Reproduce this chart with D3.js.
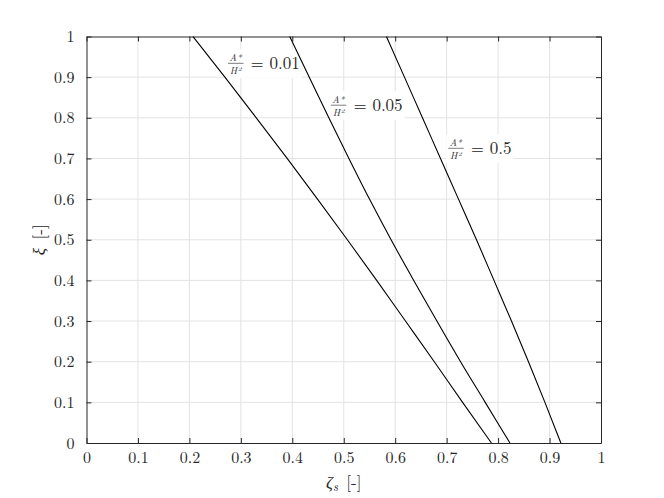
<!DOCTYPE html>
<html>
<head>
<meta charset="utf-8">
<script src="https://cdn.jsdelivr.net/npm/d3@7"></script>
<style>
  body { margin: 0; background: #fff; }
</style>
</head>
<body>
<div id="chart"></div>
<script>
const xiVals = [1, 0.9, 0.8, 0.7, 0.6, 0.5, 0.4, 0.3, 0.2, 0.1, 0];
// zeta_s for each ratio A*/H^2
const zeta001 = [0.207, 0.269, 0.330, 0.390, 0.449, 0.507, 0.564, 0.620, 0.676, 0.731, 0.787];
const zeta005 = [0.395, 0.433, 0.471, 0.510, 0.550, 0.592, 0.636, 0.681, 0.727, 0.775, 0.823];
const zeta05  = [0.583, 0.618, 0.653, 0.688, 0.723, 0.758, 0.792, 0.826, 0.859, 0.891, 0.922];
const ratioLabels = ['0.01', '0.05', '0.5'];
// label anchor (zeta, xi) in data units
const labelPos = [[0.275, 0.934], [0.475, 0.831], [0.703, 0.725]];
const tickVals = d3.range(0, 1.01, 0.1);

const width = 664, height = 498;
const margin = {top: 36.5, right: 63, bottom: 55, left: 86.5};
const iw = width - margin.left - margin.right;
const ih = height - margin.top - margin.bottom;
const serif = 'Latin Modern Roman, Liberation Serif, serif';
const ink = '#262626';

const svg = d3.select('#chart').append('svg')
	.attr('width', width)
	.attr('height', height)
	.style('font-family', serif);

const g = svg.append('g')
	.attr('transform', 'translate(' + margin.left + ',' + margin.top + ')');

const x = d3.scaleLinear().domain([0, 1]).range([0, iw]);
const y = d3.scaleLinear().domain([0, 1]).range([ih, 0]);

const fmt = d => d === 0 ? '0' : d === 1 ? '1' : d3.format('.1f')(d);

// grid
g.append('g').selectAll('line')
	.data(tickVals.slice(1, -1))
	.enter().append('line')
		.attr('x1', d => x(d)).attr('x2', d => x(d))
		.attr('y1', 0).attr('y2', ih)
		.attr('stroke', '#e3e3e3').attr('stroke-width', 1);
g.append('g').selectAll('line')
	.data(tickVals.slice(1, -1))
	.enter().append('line')
		.attr('y1', d => y(d)).attr('y2', d => y(d))
		.attr('x1', 0).attr('x2', iw)
		.attr('stroke', '#e3e3e3').attr('stroke-width', 1);

// axes (ticks inward, box on)
const axB = g.append('g').attr('transform', 'translate(0,' + ih + ')')
	.call(d3.axisBottom(x).tickValues(tickVals).tickFormat(fmt).tickSizeInner(-5).tickSizeOuter(0).tickPadding(9));
const axT = g.append('g')
	.call(d3.axisTop(x).tickValues(tickVals).tickFormat('').tickSizeInner(-5).tickSizeOuter(0));
const axL = g.append('g')
	.call(d3.axisLeft(y).tickValues(tickVals).tickFormat(fmt).tickSizeInner(-5).tickSizeOuter(0).tickPadding(12));
const axR = g.append('g').attr('transform', 'translate(' + iw + ',0)')
	.call(d3.axisRight(y).tickValues(tickVals).tickFormat('').tickSizeInner(-5).tickSizeOuter(0));

[axB, axT, axL, axR].forEach(a => {
	a.attr('font-family', null).attr('font-size', null);
	a.select('.domain').attr('stroke', ink).attr('stroke-width', 1);
	a.selectAll('.tick line').attr('stroke', ink);
	a.selectAll('text')
		.attr('fill', ink)
		.style('font-family', serif)
		.style('font-size', '16px');
});

// label background boxes (drawn under the curves, over the grid)
const bgLayer = g.append('g');

// curves
const series = [zeta001, zeta005, zeta05];
const line = d3.line()
	.curve(d3.curveMonotoneY)
	.x(d => x(d[0]))
	.y(d => y(d[1]));
g.append('g').selectAll('path')
	.data(series.map(s => s.map((z, i) => [z, xiVals[i]])))
	.enter().append('path')
		.attr('d', line)
		.attr('fill', 'none')
		.attr('stroke', '#000')
		.attr('stroke-width', 1.1);

// annotations A*/H^2 = value
const labLayer = g.append('g');
ratioLabels.forEach((val, i) => {
	const lx = x(labelPos[i][0]), ly = y(labelPos[i][1]);
	const lg = labLayer.append('g').attr('transform', 'translate(' + lx + ',' + ly + ')');
	lg.append('text').attr('x', 7.5).attr('y', -2).attr('fill', ink)
		.attr('text-anchor', 'middle').style('font-size', '10px').style('font-style', 'italic')
		.text('A*');
	lg.append('line').attr('x1', 0).attr('x2', 15.5).attr('y1', 0).attr('y2', 0)
		.attr('stroke', ink).attr('stroke-width', 0.6);
	lg.append('text').attr('x', 7.5).attr('y', 10.5).attr('fill', ink)
		.attr('text-anchor', 'middle').style('font-size', '10px').style('font-style', 'italic')
		.text('H\u00b2');
	lg.append('text').attr('x', 22.5).attr('y', 6).attr('fill', ink)
		.style('font-size', '17px')
		.text('=');
	lg.append('text').attr('x', 41.5).attr('y', 6).attr('fill', ink)
		.style('font-size', '17px')
		.text(val);
	const bb = lg.node().getBBox();
	bgLayer.append('rect')
		.attr('x', lx + bb.x - 2).attr('y', ly + bb.y - 1)
		.attr('width', bb.width + 4).attr('height', bb.height + 2)
		.attr('fill', '#fff');
});

// axis titles
const xt = svg.append('text')
	.attr('x', margin.left + iw / 2).attr('y', 488).attr('fill', ink)
	.attr('text-anchor', 'middle').style('font-size', '17px');
xt.append('tspan').text('ζ').style('font-style', 'italic');
xt.append('tspan').text('s').style('font-style', 'italic').style('font-size', '12px').attr('dy', 3);
xt.append('tspan').text('\u2002[-]').attr('dy', -3);

const yt = svg.append('text')
	.attr('transform', 'translate(45,' + (margin.top + ih / 2) + ') rotate(-90)').attr('fill', ink)
	.attr('text-anchor', 'middle').style('font-size', '17px');
yt.append('tspan').text('ξ').style('font-style', 'italic');
yt.append('tspan').text('\u2002[-]');
</script>
</body>
</html>
